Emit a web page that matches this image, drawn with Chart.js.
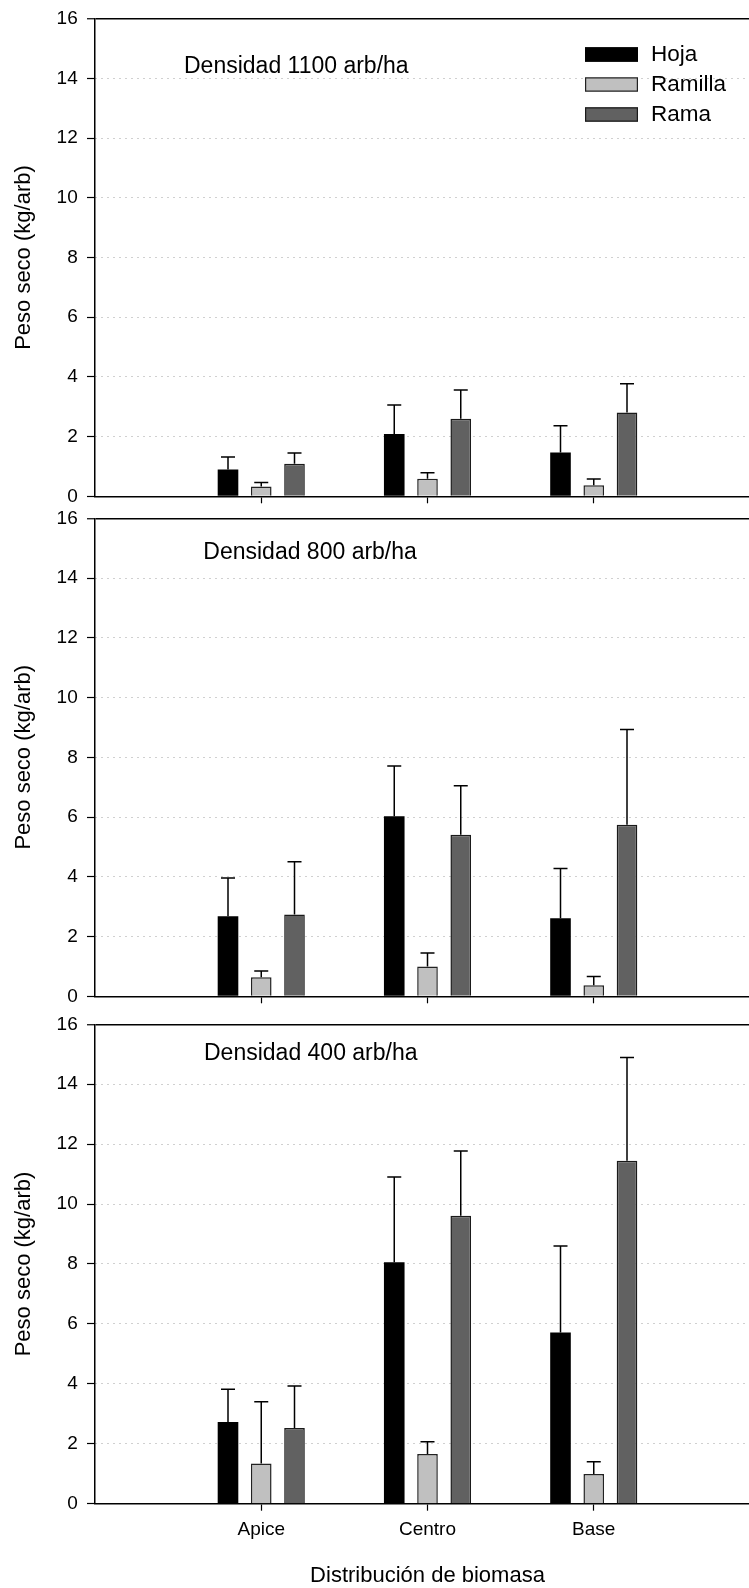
<!DOCTYPE html>
<html><head><meta charset="utf-8">
<script src="https://cdn.jsdelivr.net/npm/chart.js@4/dist/chart.umd.min.js"></script>
<style>
html,body{margin:0;padding:0;background:#fff;overflow:hidden;}
#wrap{position:relative;width:749px;height:1588px;overflow:hidden;background:#fff;}
canvas{position:absolute;left:0;}
</style></head><body>
<div id="wrap">
<canvas id="c1" width="760" height="530" style="top:0px"></canvas>
<canvas id="c2" width="760" height="540" style="top:480px"></canvas>
<canvas id="c3" width="760" height="598" style="top:990px"></canvas>
</div>
<script>
// ---- data ----
const categories = ['Apice', 'Centro', 'Base'];
const seriesNames = ['Hoja', 'Ramilla', 'Rama'];
const yTickValues = [0, 2, 4, 6, 8, 10, 12, 14, 16];
const panelTitles = ['Densidad 1100 arb/ha', 'Densidad 800 arb/ha', 'Densidad 400 arb/ha'];
const yTitle = 'Peso seco (kg/arb)';
const xTitle = 'Distribución de biomasa';

// Densidad 1100 arb/ha
const hoja1100 = [0.90, 2.09, 1.47];
const hoja1100Err = [0.42, 0.97, 0.89];
const ramilla1100 = [0.33, 0.59, 0.37];
const ramilla1100Err = [0.13, 0.20, 0.21];
const rama1100 = [1.09, 2.60, 2.81];
const rama1100Err = [0.36, 0.96, 0.96];

// Densidad 800 arb/ha
const hoja800 = [2.68, 6.03, 2.61];
const hoja800Err = [1.28, 1.68, 1.67];
const ramilla800 = [0.64, 1.00, 0.37];
const ramilla800Err = [0.21, 0.45, 0.29];
const rama800 = [2.74, 5.41, 5.74];
const rama800Err = [1.76, 1.64, 3.19];

// Densidad 400 arb/ha
const hoja400 = [2.73, 8.06, 5.71];
const hoja400Err = [1.09, 2.84, 2.89];
const ramilla400 = [1.34, 1.66, 0.99];
const ramilla400Err = [2.06, 0.41, 0.41];
const rama400 = [2.53, 9.61, 11.45];
const rama400Err = [1.40, 2.16, 3.44];

// ---- styling ----
const fills = ['#000000', '#c0c0c0', '#616161'];
const borders = ['#000000', '#222222', '#1a1a1a'];
Chart.defaults.font.family = "'Liberation Sans', Arial, Helvetica, sans-serif";
Chart.defaults.color = '#000';

function toXY(vals) { return vals.map((v, i) => ({ x: i + 1, y: v })); }

const errorBarPlugin = {
  id: 'errbars',
  afterDatasetsDraw(chart) {
    const ctx = chart.ctx, ys = chart.scales.y;
    chart.data.datasets.forEach((ds, di) => {
      const meta = chart.getDatasetMeta(di);
      meta.data.forEach((bar, i) => {
        const v = ds.data[i].y, e = ds.errors[i];
        const yTop = ys.getPixelForValue(v + e);
        ctx.save();
        ctx.strokeStyle = '#000';
        ctx.lineWidth = 1.5;
        ctx.beginPath();
        ctx.moveTo(bar.x, bar.y);
        ctx.lineTo(bar.x, yTop);
        ctx.moveTo(bar.x - 7, yTop);
        ctx.lineTo(bar.x + 7, yTop);
        ctx.stroke();
        ctx.restore();
      });
    });
  }
};

const annotPlugin = {
  id: 'annot',
  afterDraw(chart, args, opts) {
    const ctx = chart.ctx;
    ctx.save();
    ctx.fillStyle = '#000';
    ctx.font = "23px 'Liberation Sans', Arial, sans-serif";
    ctx.textBaseline = 'alphabetic';
    ctx.textAlign = 'left';
    ctx.fillText(opts.text, opts.x, opts.y);
    if (opts.legend) {
      const L = opts.legend;
      ctx.font = "22.5px 'Liberation Sans', Arial, sans-serif";
      chart.data.datasets.forEach((ds, i) => {
        const top = L.top + i * L.rowGap;
        ctx.fillStyle = ds.backgroundColor;
        ctx.fillRect(L.x, top, L.w, L.h);
        ctx.strokeStyle = ds.borderColor;
        ctx.lineWidth = 1.2;
        ctx.strokeRect(L.x + 0.6, top + 0.6, L.w - 1.2, L.h - 1.2);
        ctx.fillStyle = '#000';
        ctx.textBaseline = 'middle';
        ctx.fillText(ds.label, L.x + L.w + 13, top + L.h / 2 + 0.5);
      });
    }
    ctx.restore();
  }
};

function makePanel(id, series, errs, cfg) {
  const datasets = series.map((vals, i) => ({
    label: seriesNames[i],
    data: toXY(vals),
    errors: errs[i],
    backgroundColor: fills[i],
    borderColor: borders[i],
    borderWidth: i === 0 ? 0 : 1.5,
    categoryPercentage: 0.6,
    barPercentage: 0.62
  }));
  return new Chart(document.getElementById(id), {
    type: 'bar',
    data: { datasets },
    plugins: [errorBarPlugin, annotPlugin],
    options: {
      responsive: false,
      animation: false,
      devicePixelRatio: 1,
      layout: { padding: { top: cfg.padTop, left: 0, right: 0, bottom: 0 } },
      plugins: {
        legend: { display: false },
        tooltip: { enabled: false },
        annot: { text: cfg.title, x: cfg.tx, y: cfg.ty, legend: cfg.legend || null }
      },
      scales: {
        x: {
          type: 'linear', min: 0, max: 4, offset: false,
          afterFit: s => { s.height = cfg.xHeight; },
          afterBuildTicks: s => { s.ticks = categories.map((c, i) => ({ value: i + 1 })); },
          ticks: {
            display: cfg.showX, autoSkip: false, maxRotation: 0,
            callback: v => categories[Math.round(v) - 1],
            font: { size: 19 }, color: '#000', padding: 8
          },
          grid: { offset: false, drawOnChartArea: false, drawTicks: true, tickLength: 7, color: '#000', tickColor: '#000', tickWidth: 1.2 },
          border: { display: true, color: '#000', width: 1.5 },
          title: { display: cfg.showX, text: xTitle, font: { size: 22 }, color: '#000', padding: { top: 0, bottom: -1 } }
        },
        y: {
          min: 0, max: 16,
          afterFit: s => { s.width = 95; },
          afterBuildTicks: s => { s.ticks = yTickValues.map(v => ({ value: v })); },
          ticks: { font: { size: 19, lineHeight: 1 }, color: '#000', padding: 9.3 },
          grid: {
            color: c => (c.tick && c.tick.value === 16) ? '#000' : ((c.tick && c.tick.value === 0) ? 'rgba(0,0,0,0)' : '#a0a0a0'),
            lineWidth: c => (c.tick && c.tick.value === 16) ? 1.5 : 1,
            tickColor: '#000', tickLength: 8, tickWidth: 1.2, drawTicks: true
          },
          border: {
            display: true, color: '#000', width: 1.5,
            dash: c => (c.tick && c.tick.value > 0 && c.tick.value < 16) ? [1, 5] : []
          },
          title: { display: true, text: yTitle, font: { size: 22 }, color: '#000', padding: { top: 11, bottom: 0 } }
        }
      }
    }
  });
}

makePanel('c1', [hoja1100, ramilla1100, rama1100], [hoja1100Err, ramilla1100Err, rama1100Err],
  { padTop: 18.3, xHeight: 33.7, showX: false, title: panelTitles[0], tx: 184, ty: 72.7,
    legend: { x: 585, top: 47.3, w: 53, h: 14.4, rowGap: 30 } });
makePanel('c2', [hoja800, ramilla800, rama800], [hoja800Err, ramilla800Err, rama800Err],
  { padTop: 38.3, xHeight: 23.7, showX: false, title: panelTitles[1], tx: 203.3, ty: 79.3 });
makePanel('c3', [hoja400, ramilla400, rama400], [hoja400Err, ramilla400Err, rama400Err],
  { padTop: 34.3, xHeight: 84.3, showX: true, title: panelTitles[2], tx: 204, ty: 70 });
</script>
</body></html>
